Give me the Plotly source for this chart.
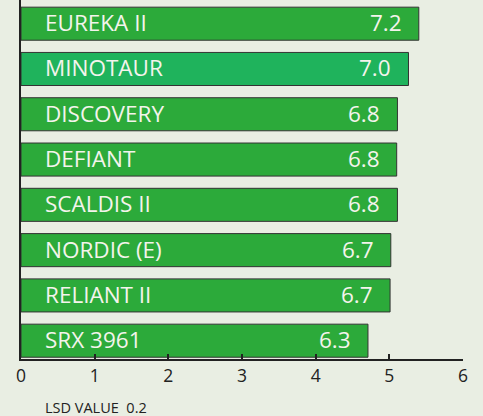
import plotly.graph_objects as go

# Data (top to bottom as in the picture)
varieties = ["EUREKA II", "MINOTAUR", "DISCOVERY", "DEFIANT", "SCALDIS II",
             "NORDIC (E)", "RELIANT II", "SRX 3961"]
bar_lengths = [5.40, 5.26, 5.11, 5.10, 5.11, 5.02, 5.01, 4.71]
value_labels = ["7.2", "7.0", "6.8", "6.8", "6.8", "6.7", "6.7", "6.3"]
x_ticks = [0, 1, 2, 3, 4, 5, 6]
footnote = "LSD VALUE  0.2"

GREEN = "#2caa3a"
TEAL = "#1fb35c"
colors = [TEAL if v == "MINOTAUR" else GREEN for v in varieties]
FONT = "Open Sans"
BG = "#e9eee3"

fig = go.Figure()
fig.add_trace(go.Bar(
    x=bar_lengths, y=varieties, orientation="h",
    marker=dict(color=colors, line=dict(color="#333333", width=1)),
    hoverinfo="skip",
))

for v, L, t in zip(varieties, bar_lengths, value_labels):
    fig.add_annotation(x=0, y=v, xref="x", yref="y", text=v, showarrow=False,
                       xanchor="left", xshift=22, yshift=1,
                       font=dict(family=FONT, size=22.5, color="#f4f4ec"))
    fig.add_annotation(x=L, y=v, xref="x", yref="y", text=t, showarrow=False,
                       xanchor="right", xshift=-15, yshift=1,
                       font=dict(family=FONT, size=22.5, color="#f4f4ec"))

fig.add_annotation(x=0, y=0, xref="paper", yref="paper", text=footnote,
                   showarrow=False, xanchor="left", yanchor="middle",
                   xshift=22, yshift=-48,
                   font=dict(family=FONT, size=14.5, color="#222222"))

fig.update_layout(
    width=483, height=416,
    margin=dict(l=21, r=20, t=0, b=57),
    paper_bgcolor=BG, plot_bgcolor=BG,
    showlegend=False, bargap=0.27,
    xaxis=dict(range=[0, 6], tickvals=x_ticks, ticks="inside", ticklen=5,
               tickcolor="#222222", tickwidth=1.5, showgrid=False, zeroline=False,
               showline=True, linecolor="#222222", linewidth=1.5,
               tickfont=dict(family=FONT, size=17.5, color="#222222")),
    yaxis=dict(categoryorder="array", categoryarray=varieties[::-1],
               range=[-0.404, 7.523], showticklabels=False, ticks="",
               showgrid=False, zeroline=False, showline=True,
               linecolor="#222222", linewidth=2),
)

fig.write_html("out.html")
